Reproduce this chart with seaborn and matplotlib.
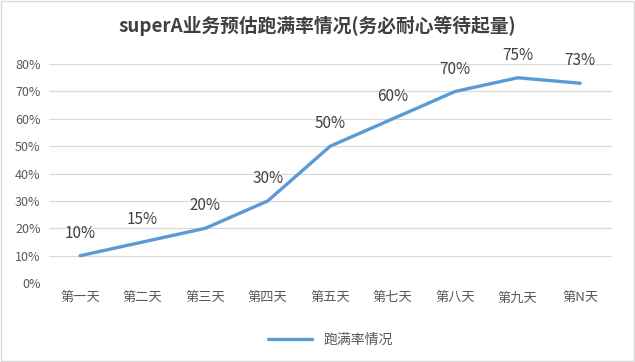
import matplotlib
matplotlib.use('Agg')
import matplotlib.pyplot as plt
import seaborn as sns
import pandas as pd
from matplotlib.ticker import PercentFormatter

days = ['第一天', '第二天', '第三天', '第四天', '第五天', '第七天', '第八天', '第九天', '第N天']
rates = [0.10, 0.15, 0.20, 0.30, 0.50, 0.60, 0.70, 0.75, 0.73]
series_name = '跑满率情况'
title = 'superA业务预估跑满率情况(务必耐心等待起量)'

sns.set_style('white')
plt.rcParams['font.family'] = ['Noto Sans CJK SC', 'DejaVu Sans']

df = pd.DataFrame({'day': days, 'rate': rates})

fig = plt.figure(figsize=(6.35, 3.62), dpi=100)
ax = fig.add_axes([0.077, 0.218, 0.886, 0.605])

sns.lineplot(data=df, x='day', y='rate', sort=False, color='#5B9BD5',
             linewidth=2.4, ax=ax, label=series_name)

for i, v in enumerate(rates):
    ax.annotate(f'{v*100:.0f}%', (i, v), xytext=(0, 10), textcoords='offset points',
                ha='center', va='bottom', fontsize=11, color='#404040')

ax.set_xlim(-0.5, len(days) - 0.5)
ax.set_ylim(0, 0.8)
ax.set_yticks([i / 10 for i in range(9)])
ax.yaxis.set_major_formatter(PercentFormatter(1.0, decimals=0))
ax.grid(axis='y', color='#d9d9d9', linewidth=0.9)
ax.set_axisbelow(True)
for s in ax.spines.values():
    s.set_visible(False)
ax.tick_params(axis='both', length=0, colors='#595959', pad=6)
ax.tick_params(axis='x', labelsize=9.5)
ax.tick_params(axis='y', labelsize=9)
ax.set_xlabel('')
ax.set_ylabel('')

leg = ax.legend(loc='center', bbox_to_anchor=(0.5, -0.26), frameon=False,
                fontsize=10, handlelength=3.2)
for t in leg.get_texts():
    t.set_color('#595959')

fig.text(0.5, 0.93, title, ha='center', va='center', fontsize=13.5,
         fontweight='bold', color='#404040')

fig.patches.append(plt.Rectangle((0.002, 0.003), 0.996, 0.994, transform=fig.transFigure,
                                 fill=False, edgecolor='#d9d9d9', linewidth=1))

fig.savefig('out.png', dpi=100)
